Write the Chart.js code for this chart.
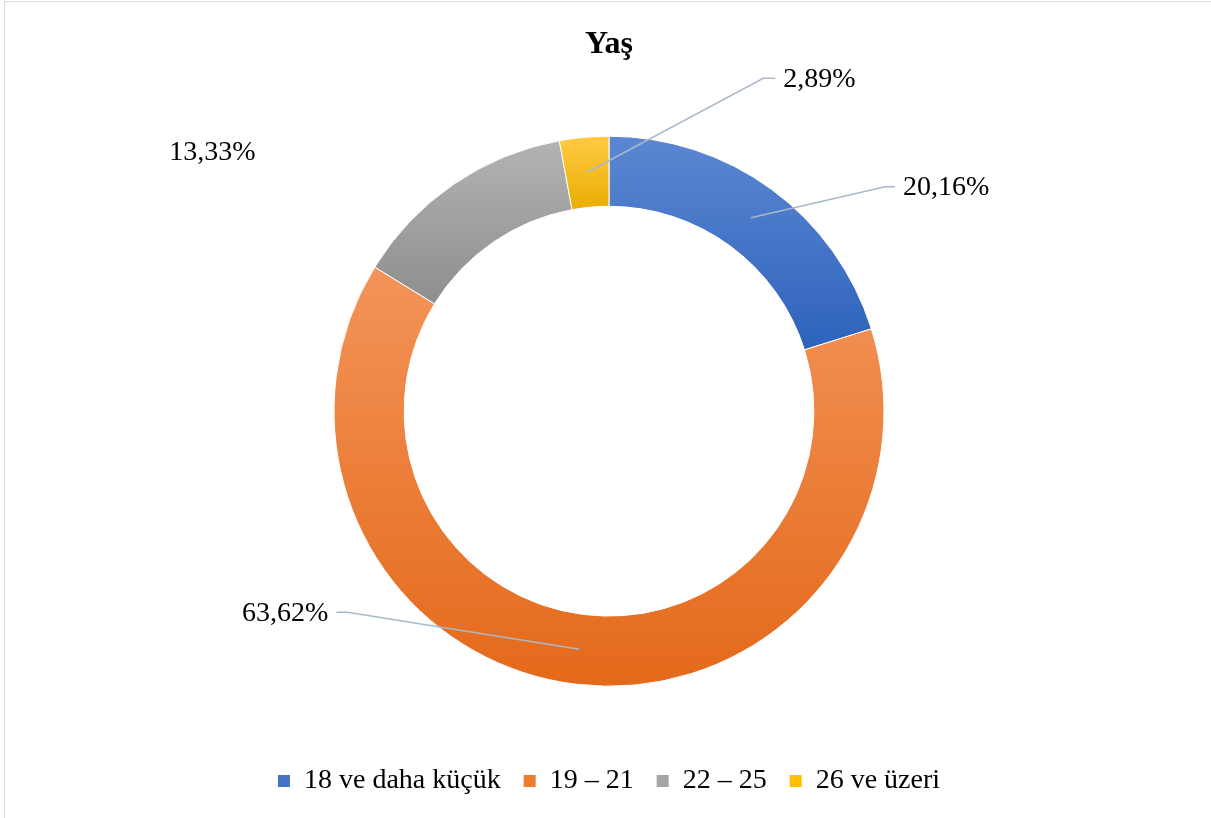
<!DOCTYPE html>
<html>
<head>
<meta charset="utf-8">
<script src="https://cdn.jsdelivr.net/npm/chart.js@4/dist/chart.umd.min.js"></script>
<style>
html, body { margin: 0; padding: 0; background: #fff; }
#frame { position: absolute; left: 4px; top: 1px; width: 1300px; height: 900px; border: 1px solid #d9d9d9; }
#wrap { position: absolute; left: 0; top: 0; width: 1211px; height: 818px; }
</style>
</head>
<body>
<div id="frame"></div>
<div id="wrap"><canvas id="doughnut-chart"></canvas></div>
<script>
const categories = ["18 ve daha küçük", "19 – 21", "22 – 25", "26 ve üzeri"];
const percentages = [20.16, 63.62, 13.33, 2.89];
const valueLabels = ["20,16%", "63,62%", "13,33%", "2,89%"];

const baseColors = ["#4472C4", "#ED7D31", "#A5A5A5", "#FFC000"];
const lightColors = ["#5B87D2", "#F39459", "#B3B3B3", "#FFCA45"];
const darkColors = ["#2E63BC", "#E4691A", "#8E8E8E", "#E9AE00"];

const RADIUS = 275;
const CUTOUT = 0.745;
const serif = "'Liberation Serif', 'Times New Roman', serif";

// excel style gradient: light at top of each slice, dark at its bottom
function sliceGradient(ctx) {
    const chart = ctx.chart;
    const area = chart.chartArea;
    const i = ctx.dataIndex;
    if (!area || i === undefined) return baseColors[i || 0];
    const cy = (area.top + area.bottom) / 2;
    const total = percentages.reduce((a, b) => a + b, 0);
    let start = 0;
    for (let k = 0; k < i; k++) start += percentages[k];
    const a0 = -Math.PI / 2 + start / total * 2 * Math.PI;
    const a1 = a0 + percentages[i] / total * 2 * Math.PI;
    let ymin = Infinity, ymax = -Infinity;
    for (let s = 0; s <= 80; s++) {
        const a = a0 + (a1 - a0) * s / 80;
        [RADIUS * CUTOUT, RADIUS].forEach(r => {
            const y = cy + r * Math.sin(a);
            ymin = Math.min(ymin, y);
            ymax = Math.max(ymax, y);
        });
    }
    const g = chart.ctx.createLinearGradient(0, ymin, 0, ymax);
    g.addColorStop(0, lightColors[i]);
    g.addColorStop(1, darkColors[i]);
    return g;
}

const labelPlugin = {
    id: 'valueLabels',
    afterDatasetsDraw(chart, args, opts) {
        const meta = chart.getDatasetMeta(0);
        const c = chart.ctx;
        c.save();
        c.font = opts.font;
        c.fillStyle = opts.color;
        c.strokeStyle = opts.lineColor;
        c.lineWidth = 1.5;
        c.textBaseline = 'middle';
        meta.data.forEach((arc, i) => {
            const p = arc.getCenterPoint();
            const o = opts.offsets[i];
            const ex = p.x + o.dx, ey = p.y + o.dy;
            let tx = ex;
            if (o.tail) {
                c.beginPath();
                c.moveTo(p.x, p.y);
                c.lineTo(ex, ey);
                c.lineTo(ex + o.tail, ey);
                c.stroke();
                tx = ex + o.tail + Math.sign(o.tail) * 8;
                c.textAlign = o.tail > 0 ? 'left' : 'right';
            } else {
                c.textAlign = 'center';
            }
            c.fillText(valueLabels[i], tx, ey + 1);
        });
        c.restore();
    }
};

new Chart(document.getElementById("doughnut-chart"), {
    type: 'doughnut',
    data: {
        labels: categories,
        datasets: [{
            data: percentages,
            backgroundColor: sliceGradient,
            borderColor: '#ffffff',
            borderWidth: 1,
            radius: RADIUS,
            cutout: (CUTOUT * 100) + '%'
        }]
    },
    plugins: [labelPlugin],
    options: {
        maintainAspectRatio: false,
        responsive: true,
        animation: false,
        events: [],
        layout: { padding: { left: 7, bottom: 13 } },
        plugins: {
            tooltip: { enabled: false },
            title: {
                display: true,
                text: 'Yaş',
                color: '#000',
                font: { family: serif, size: 32, weight: 'bold' },
                padding: { top: 26, bottom: 14 }
            },
            legend: {
                position: 'bottom',
                labels: {
                    color: '#000',
                    font: { family: serif, size: 28 },
                    boxWidth: 12,
                    boxHeight: 12,
                    padding: 23,
                    generateLabels: () => categories.map((t, i) => ({
                        text: t,
                        fillStyle: baseColors[i],
                        strokeStyle: baseColors[i],
                        lineWidth: 0,
                        hidden: false,
                        index: i
                    }))
                }
            },
            valueLabels: {
                font: "28px " + serif,
                color: '#000',
                lineColor: '#A9B8CC',
                offsets: [
                    { dx: 134, dy: -31, tail: 10 },
                    { dx: -232, dy: -37, tail: -11 },
                    { dx: -261, dy: -62, tail: 0 },
                    { dx: 176, dy: -94, tail: 12 }
                ]
            }
        }
    }
});
</script>
</body>
</html>
